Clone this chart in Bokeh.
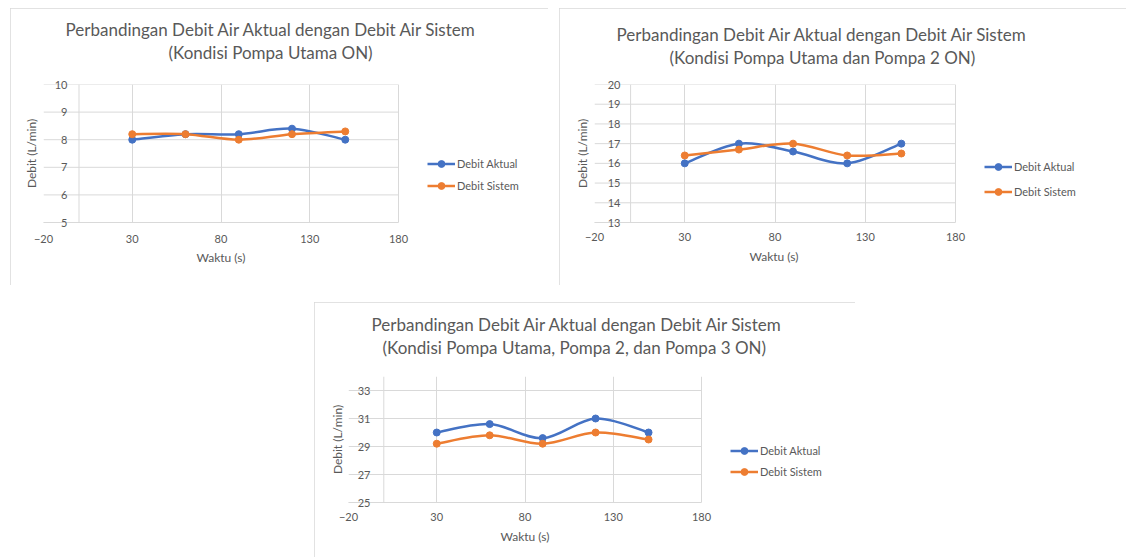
from bokeh.plotting import figure
from bokeh.models import Range1d, FixedTicker, Span, Legend, LegendItem, Spacer, Title
from bokeh.layouts import row, column
from bokeh.embed import file_html
from bokeh.resources import INLINE

# ---------------- data ----------------
waktu = [30, 60, 90, 120, 150]
x_ticks = [-20, 30, 80, 130, 180]

aktual_1 = [8.0, 8.2, 8.2, 8.4, 8.0]
sistem_1 = [8.2, 8.2, 8.0, 8.2, 8.3]
aktual_2 = [16.0, 17.0, 16.6, 16.0, 17.0]
sistem_2 = [16.4, 16.7, 17.0, 16.4, 16.5]
aktual_3 = [30.0, 30.6, 29.6, 31.0, 30.0]
sistem_3 = [29.2, 29.8, 29.2, 30.0, 29.5]

y_ticks_1 = [5, 6, 7, 8, 9, 10]
y_ticks_2 = [13, 14, 15, 16, 17, 18, 19, 20]
y_ticks_3 = [25, 27, 29, 31, 33]

title_main = "Perbandingan Debit Air Aktual dengan Debit Air Sistem"
subtitle_1 = "(Kondisi Pompa Utama ON)"
subtitle_2 = "(Kondisi Pompa Utama dan Pompa 2 ON)"
subtitle_3 = "(Kondisi Pompa Utama, Pompa 2, dan Pompa 3 ON)"
x_title = "Waktu (s)"
y_title = "Debit (L/min)"
series_names = ["Debit Aktual", "Debit Sistem"]

FONT = "Lato"
TXT = "#595959"
GRID = "#d9d9d9"
BLUE = "#4472C4"
ORANGE = "#ED7D31"


def smooth(xs, ys):
    """Bezier segments (Catmull-Rom style, as Excel smoothed lines)."""
    n = len(xs)
    d = dict(x0=[], y0=[], x1=[], y1=[], cx0=[], cy0=[], cx1=[], cy1=[])
    for i in range(n - 1):
        a = max(i - 1, 0)
        b = min(i + 2, n - 1)
        d["x0"].append(xs[i]); d["y0"].append(ys[i])
        d["x1"].append(xs[i + 1]); d["y1"].append(ys[i + 1])
        d["cx0"].append(xs[i] + (xs[i + 1] - xs[a]) / 6.0)
        d["cy0"].append(ys[i] + (ys[i + 1] - ys[a]) / 6.0)
        d["cx1"].append(xs[i + 1] - (xs[b] - xs[i]) / 6.0)
        d["cy1"].append(ys[i + 1] - (ys[b] - ys[i]) / 6.0)
    return d


def make_chart(w, h, fl, ft, fb, plot_px, yr, yt, aktual, sistem, subtitle,
               leg_loc, leg_spacing, xt_off, xl_gap, xl_off, yt_off, yl_off,
               main_off, sub_off, top_gap):
    fr = 2
    frame_w = w - fl - fr
    x0, x1 = x_ticks[0], x_ticks[-1]
    # the frame also holds the legend area to the right of the plot area
    x_end = x0 + (x1 - x0) * frame_w / plot_px
    p = figure(width=w, height=h, x_range=Range1d(x0, x_end), y_range=Range1d(*yr),
               output_backend="svg", toolbar_location=None,
               min_border_left=fl, min_border_right=fr, min_border_top=ft, min_border_bottom=fb,
               outline_line_color=None, background_fill_color="white", border_fill_color="white",
               styles={"outline": "1px solid #d9d9d9", "outline-offset": "-1px"})
    p.title.visible = False

    p.xaxis.ticker = FixedTicker(ticks=x_ticks)
    p.yaxis.ticker = FixedTicker(ticks=yt)
    p.xgrid.grid_line_color = GRID
    p.xgrid.grid_line_width = 1
    p.ygrid.visible = False
    # horizontal gridlines limited to the plot area (-20 .. 180)
    p.segment(x0=[x0] * len(yt), x1=[x1] * len(yt), y0=yt, y1=yt,
              line_color=GRID, line_width=1, level="underlay")

    xa = p.xaxis[0]
    xa.bounds = (x0, x1)
    xa.axis_line_color = GRID
    xa.major_tick_line_color = None
    xa.minor_tick_line_color = None
    xa.major_label_text_font = FONT
    xa.major_label_text_font_size = "11px"
    xa.major_label_text_color = TXT
    xa.major_label_standoff = xt_off

    ya = p.yaxis[0]
    ya.axis_line_color = None
    ya.major_tick_line_color = None
    ya.minor_tick_line_color = None
    ya.major_label_text_font = FONT
    ya.major_label_text_font_size = "11px"
    ya.major_label_text_color = TXT
    ya.major_label_standoff = yt_off
    ya.axis_label = y_title
    ya.axis_label_text_font = FONT
    ya.axis_label_text_font_size = "12px"
    ya.axis_label_text_font_style = "normal"
    ya.axis_label_text_color = TXT
    ya.axis_label_standoff = yl_off

    p.add_layout(Span(location=0, dimension="height", line_color=GRID, line_width=1))

    items = []
    for name, ys, col in zip(series_names, (aktual, sistem), (BLUE, ORANGE)):
        d = smooth(waktu, ys)
        b = p.bezier(line_color=col, line_width=2.5, **d)
        s = p.scatter(waktu, ys, size=7, marker="circle", fill_color=col, line_color=col)
        items.append(LegendItem(label=name, renderers=[b, s]))

    leg = Legend(items=items, location=leg_loc, orientation="vertical",
                 border_line_color=None, background_fill_alpha=0, padding=0, margin=0,
                 spacing=leg_spacing, glyph_width=28, glyph_height=17, label_height=14,
                 label_standoff=2, label_text_font=FONT, label_text_font_size="11px",
                 label_text_color=TXT)
    p.add_layout(leg)

    # x-axis title, centred under the plot area
    p.add_layout(Title(text=x_title, align="left", offset=xl_off, text_font=FONT,
                       text_font_size="12px", text_font_style="normal", text_color=TXT,
                       standoff=xl_gap), "below")

    # gap between plot area and subtitle, then the two title lines
    p.add_layout(Title(text=" ", text_font_size="1px", standoff=top_gap), "above")
    p.add_layout(Title(text=subtitle, align="left", offset=sub_off, text_font=FONT,
                       text_font_size="17px", text_font_style="normal", text_color=TXT,
                       standoff=0), "above")
    p.add_layout(Title(text=title_main, align="left", offset=main_off, text_font=FONT,
                       text_font_size="17px", text_font_style="normal", text_color=TXT,
                       standoff=0), "above")
    return p


p1 = make_chart(538, 277, 33, 76, 63, 355, (5, 10), y_ticks_1, aktual_1, sistem_1, subtitle_1,
                (384, 28), 5, 6, 4, 153, -30, 13, 22, 125, 19)
p2 = make_chart(567, 277, 35, 76, 63, 361, (13, 20), y_ticks_2, aktual_2, sistem_2, subtitle_2,
                (390, 22), 8, 4, 6, 155, -32, 15, 22, 75, 14)
p3 = make_chart(541, 255, 34, 74, 55, 353, (25, 34), y_ticks_3, aktual_3, sistem_3, subtitle_3,
                (382, 22), 4, 4, 6, 152, -28, 10, 23, 34, 16)

layout = column(
    Spacer(width=10, height=8),
    row(Spacer(width=10, height=277), p1, Spacer(width=11, height=277), p2),
    Spacer(width=10, height=17),
    row(Spacer(width=314, height=255), p3),
)

open("out.html", "w").write(file_html(layout, INLINE))
